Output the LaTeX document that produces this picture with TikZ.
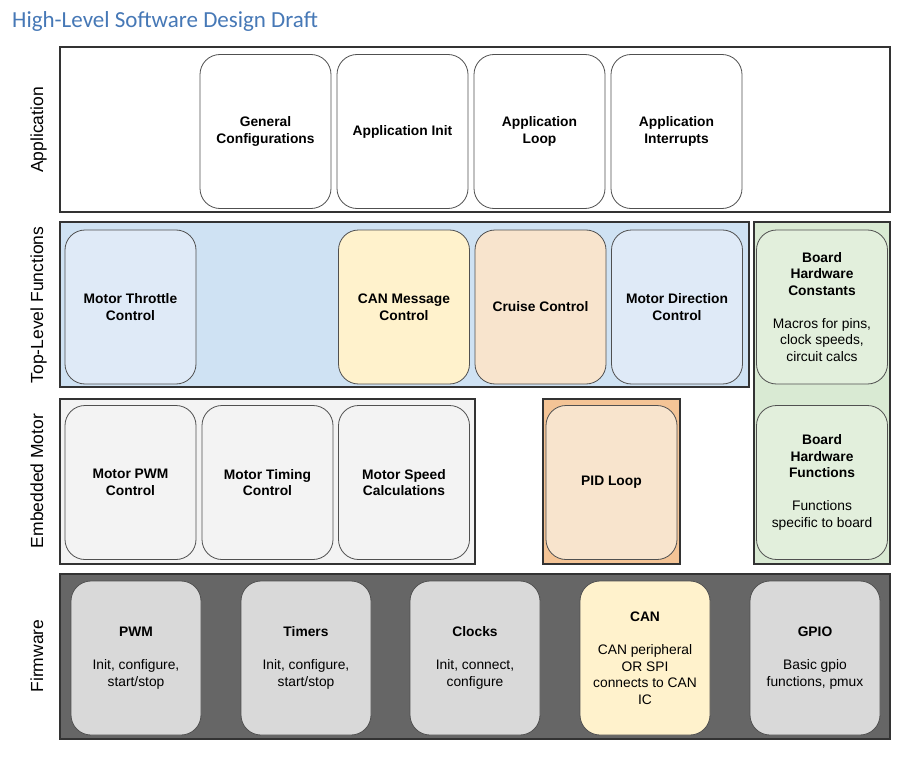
\documentclass[tikz,border=0pt]{standalone}
\usepackage{fontspec}
\setmainfont{Liberation Sans}
\newfontfamily\titlefont{Carlito}
\usepackage{tikz}

\definecolor{titleblue}{RGB}{70,120,182}
\definecolor{framegray}{RGB}{51,51,51}
\definecolor{boxgray}{RGB}{80,80,80}
\definecolor{topblue}{RGB}{207,226,243}
\definecolor{lightblue}{RGB}{223,234,247}
\definecolor{canyellow}{RGB}{255,242,204}
\definecolor{lightorange}{RGB}{248,228,205}
\definecolor{pidorange}{RGB}{244,196,150}
\definecolor{boardgreen}{RGB}{217,234,211}
\definecolor{lightgreen}{RGB}{226,239,220}
\definecolor{embgray}{RGB}{243,243,243}
\definecolor{fwgray}{RGB}{102,102,102}
\definecolor{fwbox}{RGB}{217,217,217}

\begin{document}
\begin{tikzpicture}[x=1pt, y=-1pt,
    layer/.style = {draw=framegray, line width=1.5pt, inner sep=0pt},
    box/.style = {draw=boxgray, line width=0.8pt, rounded corners=20pt, minimum width=131pt, minimum height=154pt, align=center, yshift=-1.5pt, font=\fontsize{13.8}{16.5}\selectfont\bfseries},
    descbox/.style = {box, font=\fontsize{13.8}{16.5}\selectfont},
    fw/.style = {descbox, fill=fwbox, minimum width=130pt},
    side/.style = {rotate=90, anchor=base, inner sep=0pt, font=\fontsize{17.5}{20}\selectfont}]
        \useasboundingbox (0,0) rectangle (922,760);
        \node[anchor=base west, inner sep=0pt, text=titleblue, font=\titlefont\fontsize{23}{26}\selectfont] (title) at (12,28) {High-Level Software Design Draft};

        % layers
        \node[layer, fill=white, minimum width=830pt, minimum height=165pt] (app) at (475,129.5) {};
        \node[layer, fill=topblue, minimum width=689pt, minimum height=165pt] (top) at (404.5,304.5) {};
        \node[layer, fill=boardgreen, minimum width=136pt, minimum height=342pt] (board) at (822,393) {};
        \node[layer, fill=embgray, minimum width=415pt, minimum height=165pt] (emb) at (267.5,481.5) {};
        \node[layer, fill=pidorange, minimum width=137pt, minimum height=165pt] (pid) at (611.5,481.5) {};
        \node[layer, fill=fwgray, minimum width=830pt, minimum height=165pt] (fw) at (475,656.5) {};

        \node[side] (applabel) at (43,130) {Application};
        \node[side] (toplabel) at (43,305) {Top-Level Functions};
        \node[side] (emblabel) at (43,481) {Embedded Motor};
        \node[side] (fwlabel) at (43,656) {Firmware};

        % application
        \node[box, fill=white] (gencfg) at (265.5,130) {General\\Configurations};
        \node[box, fill=white] (appinit) at (402.5,130) {Application Init};
        \node[box, fill=white] (apploop) at (539.5,130) {Application\\Loop};
        \node[box, fill=white] (appint) at (676.5,130) {Application\\Interrupts};

        % top-level functions
        \node[box, fill=lightblue] (throttle) at (130.5,305.5) {Motor Throttle\\Control};
        \node[box, fill=canyellow] (canmsg) at (404,305.5) {CAN Message\\Control};
        \node[box, fill=lightorange] (cruise) at (540.5,305.5) {Cruise Control};
        \node[box, fill=lightblue] (direction) at (677,305.5) {Motor Direction\\Control};

        % board hardware
        \node[descbox, fill=lightgreen] (hwconst) at (822,305.5) {\textbf{Board}\\\textbf{Hardware}\\\textbf{Constants}\\[16.5pt]Macros for pins,\\clock speeds,\\circuit calcs};
        \node[descbox, fill=lightgreen] (hwfunc) at (822,481) {\textbf{Board}\\\textbf{Hardware}\\\textbf{Functions}\\[16.5pt]Functions\\specific to board};

        % embedded motor
        \node[box, fill=embgray] (motorpwm) at (130.5,481) {Motor PWM\\Control};
        \node[box, fill=embgray] (timing) at (267.5,481) {Motor Timing\\Control};
        \node[box, fill=embgray] (speed) at (404,481) {Motor Speed\\Calculations};
        \node[box, fill=lightorange] (pidloop) at (611.5,481) {PID Loop};

        % firmware
        \node[fw] (pwm) at (136,656.5) {\textbf{PWM}\\[16.5pt]Init, configure,\\start/stop};
        \node[fw] (timers) at (306,656.5) {\textbf{Timers}\\[16.5pt]Init, configure,\\start/stop};
        \node[fw] (clocks) at (475,656.5) {\textbf{Clocks}\\[16.5pt]Init, connect,\\configure};
        \node[fw, fill=canyellow] (can) at (645,656.5) {\textbf{CAN}\\[16.5pt]CAN peripheral\\OR SPI\\connects to CAN\\IC};
        \node[fw] (gpio) at (815,656.5) {\textbf{GPIO}\\[16.5pt]Basic gpio\\functions, pmux};
\end{tikzpicture}
\end{document}
